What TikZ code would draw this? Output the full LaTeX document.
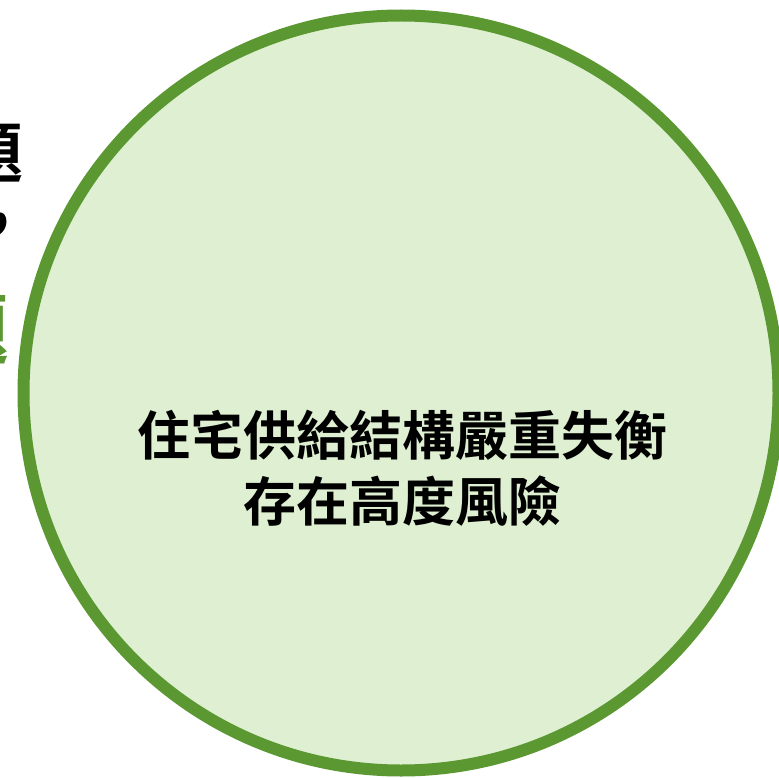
\documentclass[tikz,border=0pt]{standalone}
\usepackage{fontspec}
\newfontfamily\cjk{Noto Sans CJK TC}[BoldFont={Noto Sans CJK TC Bold}]
\definecolor{ringgreen}{HTML}{5B9832}
\definecolor{fillgreen}{HTML}{DEF0D1}
\tikzset{
	cut/.style={anchor=base east, inner sep=0pt, font=\cjk\bfseries},
}

\begin{document}
\begin{tikzpicture}[x=1pt, y=-1pt]
		\useasboundingbox (0,0) rectangle (779,778);
		\clip (0,0) rectangle (779,778);
		\coordinate (O) at (401,393);
		% text running off the left edge
		\node[cut, font=\cjk\bfseries\fontsize{66}{70}\selectfont] (t1) at (24,178) {題};
		\node[cut, font=\cjk\bfseries\fontsize{66}{70}\selectfont] (t2) at (33,248) {，};
		\node[cut, text=ringgreen, font=\cjk\bfseries\fontsize{78}{80}\selectfont] (t3) at (10,358) {題};
		% the ring
		\draw[ringgreen, fill=fillgreen, line width=12pt] (O) circle (377.5);
		\node[align=center, inner sep=0pt, font=\cjk\bfseries\fontsize{53}{66}\selectfont] (risk) at (402.5,468) {住宅供給結構嚴重失衡\\存在高度風險};
	\end{tikzpicture}
\end{document}
